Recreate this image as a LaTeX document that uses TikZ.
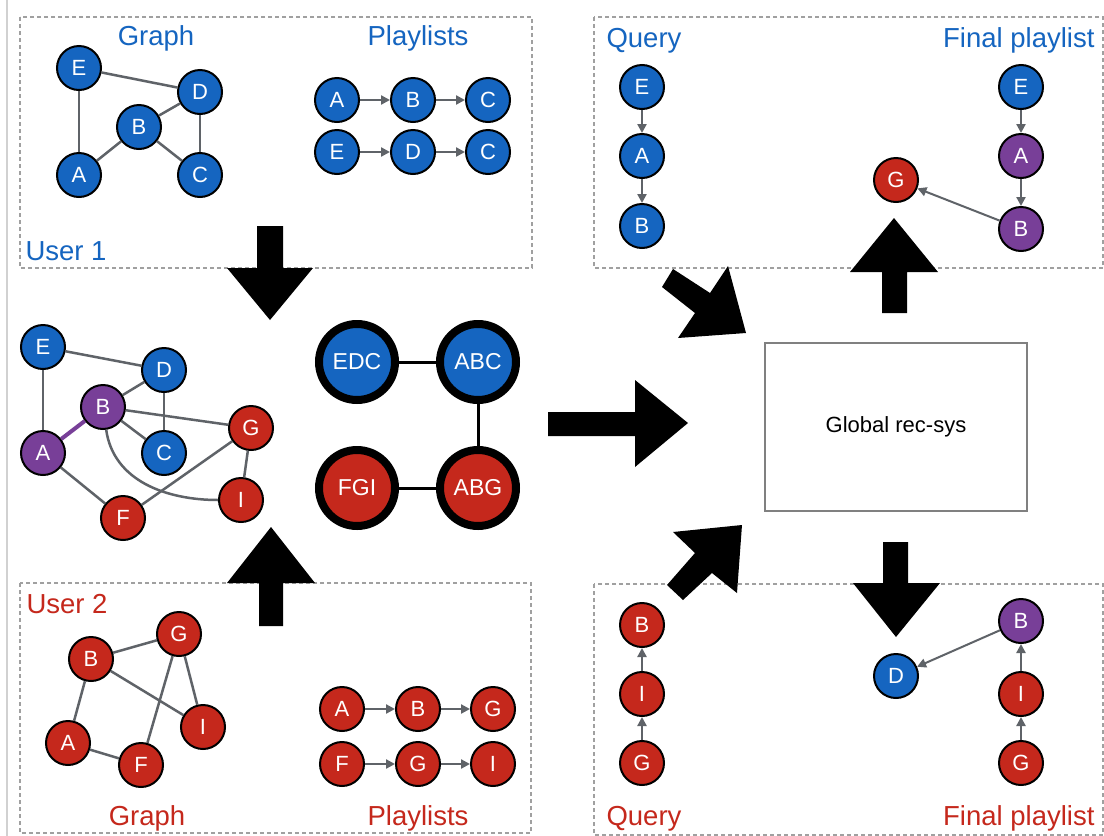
\documentclass[tikz,border=0pt]{standalone}
\usepackage{fontspec}
\setmainfont{Liberation Sans}
\usetikzlibrary{arrows.meta}

\definecolor{songblue}{HTML}{1565C0}
\definecolor{songred}{HTML}{C5281C}
\definecolor{songpurple}{HTML}{783F98}
\definecolor{linkgray}{HTML}{5F6368}
\definecolor{framegray}{HTML}{A0A0A0}

\tikzset{
  song/.style={circle, draw=black, line width=2pt, minimum size=44pt, inner sep=0pt,
    text=white, font=\fontsize{22}{22}\selectfont},
  bsong/.style={song, fill=songblue},
  rsong/.style={song, fill=songred},
  psong/.style={song, fill=songpurple},
  link/.style={draw=linkgray, line width=2.5pt},
  seq/.style={link, -{Triangle[length=9pt,width=9pt]}},
  thinseq/.style={draw=linkgray, line width=2pt, -{Triangle[length=9pt,width=9pt]}},
  group/.style={draw=framegray, line width=1.8pt, dash pattern=on 4pt off 3pt},
  caption/.style={font=\fontsize{27.5}{27.5}\selectfont},
  cluster/.style={circle, draw=black, line width=8pt, minimum size=76pt, inner sep=0pt,
    text=white, font=\fontsize{23}{23}\selectfont},
  clusterlink/.style={draw=black, line width=3pt},
  bigarrow/.style={fill=black},
}

\begin{document}
\begin{tikzpicture}[x=1pt, y=-1pt]
\useasboundingbox (0,0) rectangle (1104,836);
\fill[white] (0,0) rectangle (1104,836);

% left rule
\draw[draw=black!18, line width=1.5pt] (7,0) -- (7,836);

% ---------- group frames ----------
\draw[group] (20,17) rectangle (532,268);
\draw[group] (594,17) rectangle (1103,268);
\draw[group] (20,583) rectangle (531,833);
\draw[group] (594,584) rectangle (1103,835);

% ---------- user 1 ----------
\node[caption, text=songblue, anchor=base] (t1g) at (156,45) {Graph};
\node[caption, text=songblue, anchor=base] (t1p) at (418,45) {Playlists};
\node[caption, text=songblue, anchor=base west] (t1u) at (22,260) {User 1};

\node[bsong] (u1E) at (79,68) {E};
\node[bsong] (u1D) at (200,92) {D};
\node[bsong] (u1B) at (139,127) {B};
\node[bsong] (u1A) at (79,175) {A};
\node[bsong] (u1C) at (200,175) {C};
\draw[link] (u1E) -- (u1D);
\draw[link] (u1E) -- (u1A);
\draw[link] (u1A) -- (u1B);
\draw[link] (u1B) -- (u1D);
\draw[link] (u1B) -- (u1C);
\draw[link] (u1D) -- (u1C);

\node[bsong] (p1a) at (337,100) {A};
\node[bsong] (p1b) at (413,100) {B};
\node[bsong] (p1c) at (488,100) {C};
\node[bsong] (p1e) at (337,152) {E};
\node[bsong] (p1d) at (413,152) {D};
\node[bsong] (p1f) at (488,152) {C};
\draw[seq] (p1a) -- (p1b);
\draw[seq] (p1b) -- (p1c);
\draw[seq] (p1e) -- (p1d);
\draw[seq] (p1d) -- (p1f);

% ---------- user 2 ----------
\node[caption, text=songred, anchor=base west] (t2u) at (23,613) {User 2};
\node[caption, text=songred, anchor=base] (t2g) at (147,825) {Graph};
\node[caption, text=songred, anchor=base] (t2p) at (418,825) {Playlists};

\node[rsong] (u2B) at (91,659) {B};
\node[rsong] (u2G) at (179,634) {G};
\node[rsong] (u2A) at (68,743) {A};
\node[rsong] (u2F) at (141,765) {F};
\node[rsong] (u2I) at (203,727) {I};
\draw[link] (u2B) -- (u2G);
\draw[link] (u2B) -- (u2A);
\draw[link] (u2B) -- (u2I);
\draw[link] (u2G) -- (u2F);
\draw[link] (u2G) -- (u2I);
\draw[link] (u2A) -- (u2F);

\node[rsong] (p2a) at (342,709) {A};
\node[rsong] (p2b) at (418,709) {B};
\node[rsong] (p2g) at (493,709) {G};
\node[rsong] (p2f) at (342,764) {F};
\node[rsong] (p2h) at (418,764) {G};
\node[rsong] (p2i) at (493,764) {I};
\draw[seq] (p2a) -- (p2b);
\draw[seq] (p2b) -- (p2g);
\draw[seq] (p2f) -- (p2h);
\draw[seq] (p2h) -- (p2i);

% ---------- merged graph ----------
\node[bsong] (mE) at (43,347) {E};
\node[bsong] (mD) at (164,370) {D};
\node[psong] (mB) at (103,407) {B};
\node[psong] (mA) at (43,453) {A};
\node[bsong] (mC) at (164,453) {C};
\node[rsong] (mG) at (251,428) {G};
\node[rsong] (mI) at (241,500) {I};
\node[rsong] (mF) at (123,518) {F};
\draw[link] (mE) -- (mD);
\draw[link] (mE) -- (mA);
\draw[link] (mB) -- (mD);
\draw[link] (mD) -- (mC);
\draw[link] (mB) -- (mC);
\draw[link] (mB) -- (mG);
\draw[link] (mA) -- (mF);
\draw[link] (mF) -- (mG);
\draw[link] (mG) -- (mI);
\draw[link] (mB) to[out=-82, in=180] (mI);
\draw[draw=songpurple, line width=4pt] (mA) -- (mB);

% ---------- clusters ----------
\node[cluster, fill=songblue] (cEDC) at (357,362) {EDC};
\node[cluster, fill=songblue] (cABC) at (478,362) {ABC};
\node[cluster, fill=songred] (cFGI) at (357,488) {FGI};
\node[cluster, fill=songred] (cABG) at (478,488) {ABG};
\draw[clusterlink] (cEDC) -- (cABC);
\draw[clusterlink] (cABC) -- (cABG);
\draw[clusterlink] (cFGI) -- (cABG);

% ---------- global recommender ----------
\node[draw=black!50, line width=1.5pt, minimum width=262pt, minimum height=168pt,
  font=\fontsize{22}{22}\selectfont] (rec) at (896,427) {Global rec-sys};

% ---------- big arrows ----------
\fill[bigarrow] (257,226) -- (283,226) -- (283,268) -- (313,268) -- (270,320)
  -- (227,268) -- (257,268) -- cycle;
\fill[bigarrow] (259,626) -- (283,626) -- (283,583) -- (315,583) -- (271,527)
  -- (227,583) -- (259,583) -- cycle;
\fill[bigarrow] (548,412) -- (635,412) -- (635,380) -- (688,423) -- (635,467)
  -- (635,436) -- (548,436) -- cycle;
\fill[bigarrow] (673,269) -- (710,293) -- (728,266) -- (746,333) -- (678,338)
  -- (695,313) -- (662,287) -- cycle;
\fill[bigarrow] (742,525) -- (673,532) -- (695,553) -- (667,585) -- (683,600)
  -- (712,573) -- (737,593) -- cycle;
\fill[bigarrow] (882,313) -- (907,313) -- (907,272) -- (938,272) -- (894,218)
  -- (850,272) -- (882,272) -- cycle;
\fill[bigarrow] (883,542) -- (908,542) -- (908,583) -- (940,583) -- (896,637)
  -- (853,583) -- (883,583) -- cycle;

% ---------- query / result, user 1 ----------
\node[caption, text=songblue, anchor=base west] (t3q) at (603,47) {Query};
\node[caption, text=songblue, anchor=base east] (t3f) at (1098,47) {Final playlist};
\node[bsong] (qE) at (642,87) {E};
\node[bsong] (qA) at (642,156) {A};
\node[bsong] (qB) at (642,226) {B};
\draw[seq] (qE) -- (qA);
\draw[seq] (qA) -- (qB);
\node[bsong] (fE) at (1021,87) {E};
\node[psong] (fA) at (1021,156) {A};
\node[psong] (fB) at (1021,229) {B};
\node[rsong] (fG) at (896,180) {G};
\draw[seq] (fE) -- (fA);
\draw[seq] (fA) -- (fB);
\draw[thinseq] (fB) -- (fG);

% ---------- query / result, user 2 ----------
\node[caption, text=songred, anchor=base west] (t4q) at (603,825) {Query};
\node[caption, text=songred, anchor=base east] (t4f) at (1098,825) {Final playlist};
\node[rsong] (rB) at (642,625) {B};
\node[rsong] (rI) at (642,694) {I};
\node[rsong] (rG) at (642,763) {G};
\draw[seq] (rG) -- (rI);
\draw[seq] (rI) -- (rB);
\node[psong] (gB) at (1021,621) {B};
\node[rsong] (gI) at (1021,694) {I};
\node[rsong] (gG) at (1021,763) {G};
\node[bsong] (gD) at (896,676) {D};
\draw[seq] (gG) -- (gI);
\draw[seq] (gI) -- (gB);
\draw[thinseq] (gB) -- (gD);
\end{tikzpicture}
\end{document}
